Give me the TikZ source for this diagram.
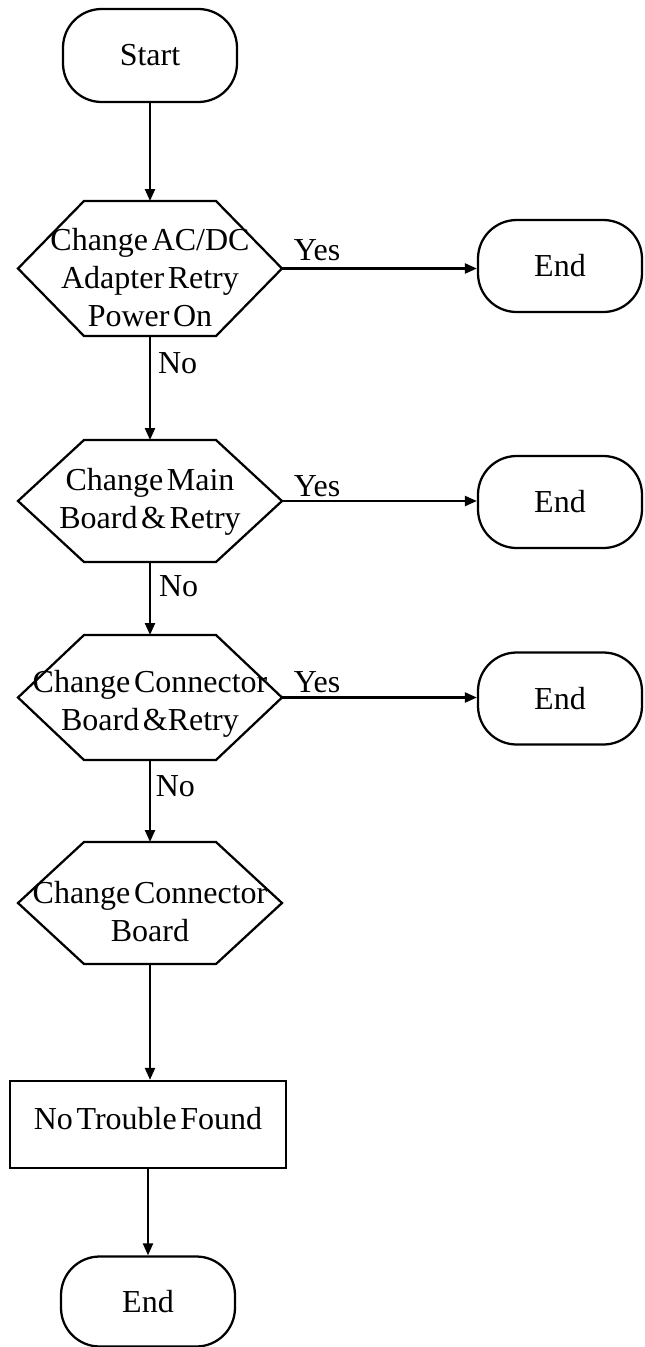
\documentclass[tikz,border=0pt]{standalone}
\usepackage{fontspec}
\setmainfont{Liberation Serif}[WordSpace=0.45]
\usetikzlibrary{arrows.meta}
\begin{document}
\begin{tikzpicture}[x=0.75pt,y=-0.75pt,
  every node/.style={font=\fontsize{24}{28.5}\selectfont},
  flow/.style={line width=1.7pt},
  arr/.style={flow,-{Triangle[length=9pt,width=7.5pt]}},
  terminal/.style={draw,flow,rounded corners=29pt,minimum width=130.5pt,minimum height=69.75pt,inner sep=0pt},
  endterm/.style={terminal,minimum width=123pt,minimum height=69pt},
  hexbox/.style={inner sep=0pt,outer sep=0pt,minimum width=198pt},
  procbox/.style={draw,flow,minimum width=207pt,minimum height=65.25pt,inner sep=0pt},
  caption/.style={align=center,inner sep=0pt},
  answer/.style={inner sep=0pt}
]
\useasboundingbox (0,0) rectangle (644,1347);

% terminals
\node[terminal] (start) at (150,55.5) {Start};
\node[endterm] (e1) at (560,266) {End};
\node[endterm] (e2) at (560,502) {End};
\node[endterm] (e3) at (560,698.5) {End};
\node[terminal,minimum height=67.5pt] (e4) at (148,1301.5) {End};

% decision hexagons (geometry only)
\node[hexbox,minimum height=101.25pt] (d1) at (150,268.5) {};
\node[hexbox,minimum height=91.5pt]   (d2) at (150,501) {};
\node[hexbox,minimum height=93.75pt]  (d3) at (150,697.5) {};
\node[hexbox,minimum height=91.5pt]   (d4) at (150,903) {};
\foreach \h in {d1,d2,d3,d4}
  \draw[flow,line join=miter] (\h.west) -- ([xshift=49.5pt]\h.north west)
    -- ([xshift=-49.5pt]\h.north east) -- (\h.east)
    -- ([xshift=-49.5pt]\h.south east) -- ([xshift=49.5pt]\h.south west) -- cycle;

% hexagon captions
\node[caption] (d1t) at (150,278) {Change AC/DC\\Adapter Retry\\Power On};
\node[caption] (d2t) at (150,501.5) {Change Main\\Board \& Retry};
\node[caption] (d3t) at (150,704) {Change Connector\\Board \&Retry};
\node[caption] (d4t) at (150,911.5) {Change Connector\\Board};

% process box
\node[procbox] (ntf) at (148,1124.5) {};
\node[answer] (ntft) at (148,1119) {No Trouble Found};

% connectors
\draw[arr] (start.south) -- (d1.north);
\draw[arr] (d1.east) -- node[answer,pos=0.18,above=5pt]{Yes} (d1.east -| e1.west);
\draw[arr] (d2.east) -- node[answer,pos=0.18,above=2.5pt]{Yes} (d2.east -| e2.west);
\draw[arr] (d3.east) -- node[answer,pos=0.18,above=3pt]{Yes} (d3.east -| e3.west);
\draw[arr] (d1.south) -- node[answer,pos=0.26,right=5.25pt]{No} (d2.north);
\draw[arr] (d2.south) -- node[answer,pos=0.33,right=6pt]{No} (d3.north);
\draw[arr] (d3.south) -- node[answer,pos=0.32,right=3.5pt]{No} (d4.north);
\draw[arr] (d4.south) -- (d4.south |- ntf.north);
\draw[arr] (ntf.south) -- (ntf.south |- e4.north);
\end{tikzpicture}
\end{document}
